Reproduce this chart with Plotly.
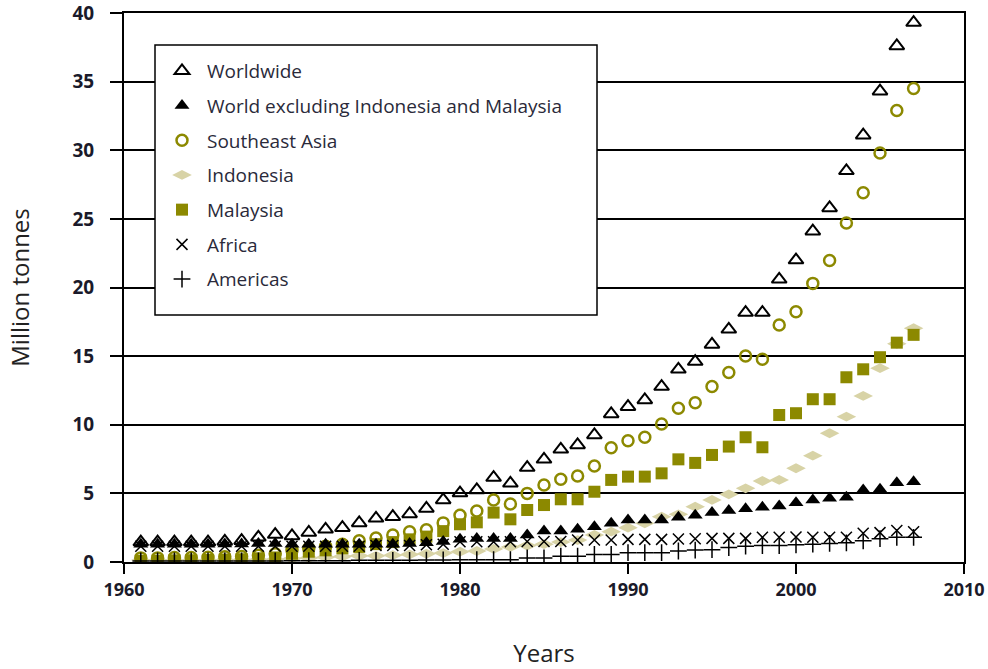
import plotly.graph_objects as go

years = list(range(1961, 2008))

worldwide = [1.45, 1.45, 1.45, 1.45, 1.45, 1.5, 1.55, 1.8, 2.0, 1.9,
             2.15, 2.38, 2.5, 2.85, 3.18, 3.3, 3.5, 3.9, 4.52, 5.02,
             5.25, 6.15, 5.73, 6.88, 7.48, 8.21, 8.53, 9.26, 10.79, 11.32,
             11.81, 12.78, 14.04, 14.6, 15.85, 16.95, 18.17, 18.17, 20.6, 22.0,
             24.1, 25.8, 28.5, 31.1, 34.3, 37.6, 39.3]

world_excl = [1.3, 1.3, 1.3, 1.3, 1.3, 1.32, 1.32, 1.35, 1.35, 1.3,
              1.3, 1.3, 1.3, 1.3, 1.3, 1.3, 1.35, 1.4, 1.5, 1.65,
              1.72, 1.72, 1.72, 1.97, 2.26, 2.26, 2.38, 2.57, 2.82, 3.06,
              3.06, 3.06, 3.26, 3.4, 3.6, 3.75, 3.88, 3.99, 4.08, 4.32,
              4.52, 4.64, 4.71, 5.25, 5.3, 5.78, 5.85]

se_asia = [0.3, 0.3, 0.32, 0.33, 0.35, 0.38, 0.4, 0.5, 0.6, 0.85,
           1.0, 1.15, 1.3, 1.55, 1.75, 1.97, 2.2, 2.35, 2.85, 3.4,
           3.72, 4.52, 4.23, 5.0, 5.61, 6.03, 6.27, 7.0, 8.33, 8.84,
           9.09, 10.06, 11.2, 11.61, 12.78, 13.8, 15.01, 14.77, 17.27, 18.24,
           20.3, 21.96, 24.7, 26.9, 29.8, 32.9, 34.5]

indonesia = [0.15, 0.15, 0.15, 0.15, 0.15, 0.17, 0.17, 0.18, 0.2, 0.25,
             0.3, 0.35, 0.4, 0.45, 0.45, 0.5, 0.55, 0.6, 0.65, 0.75,
             0.8, 0.95, 1.1, 1.2, 1.3, 1.45, 1.6, 1.97, 2.21, 2.5,
             2.82, 3.3, 3.47, 4.03, 4.52, 4.93, 5.37, 5.9, 5.98, 6.83,
             7.75, 9.38, 10.59, 12.1, 14.12, 15.9, 17.03]

malaysia = [0.1, 0.1, 0.12, 0.13, 0.15, 0.18, 0.2, 0.27, 0.33, 0.6,
            0.75, 0.85, 1.0, 1.1, 1.3, 1.45, 1.65, 1.85, 2.25, 2.75,
            2.89, 3.6, 3.11, 3.79, 4.15, 4.57, 4.57, 5.12, 5.98, 6.22,
            6.22, 6.46, 7.48, 7.22, 7.8, 8.41, 9.09, 8.36, 10.71, 10.84,
            11.86, 11.86, 13.46, 14.04, 14.92, 15.98, 16.55]

africa = [1.15, 1.15, 1.15, 1.15, 1.15, 1.15, 1.15, 1.15, 1.15, 1.15,
          1.15, 1.15, 1.15, 1.15, 1.2, 1.2, 1.2, 1.25, 1.3, 1.48,
          1.48, 1.48, 1.48, 1.5, 1.5, 1.5, 1.6, 1.6, 1.6, 1.65,
          1.65, 1.65, 1.68, 1.7, 1.72, 1.72, 1.72, 1.8, 1.8, 1.82,
          1.8, 1.8, 1.8, 2.1, 2.14, 2.3, 2.2]

americas = [0.08, 0.08, 0.08, 0.08, 0.08, 0.08, 0.08, 0.08, 0.08, 0.1,
            0.1, 0.1, 0.1, 0.12, 0.12, 0.12, 0.12, 0.14, 0.15, 0.17,
            0.17, 0.17, 0.17, 0.3, 0.3, 0.42, 0.42, 0.55, 0.55, 0.68,
            0.68, 0.68, 0.8, 0.87, 0.9, 1.05, 1.15, 1.2, 1.2, 1.25,
            1.3, 1.35, 1.4, 1.55, 1.7, 1.8, 1.8]

OLIVE = "#8c8900"
BEIGE = "#d8d3a6"

fig = go.Figure()

def add(name, y, symbol, size, color, line_color, line_width, rank):
    fig.add_trace(go.Scatter(
        x=years, y=y, mode="markers", name=name,
        legendgroup=name, legendrank=rank,
        marker=dict(symbol=symbol, size=size, color=color,
                    line=dict(color=line_color, width=line_width)),
    ))

add("Indonesia", indonesia, "diamond-wide", 14, BEIGE, BEIGE, 0, 4)
add("Malaysia", malaysia, "square", 12, OLIVE, OLIVE, 0, 5)
add("Southeast Asia", se_asia, "circle-open", 11, OLIVE, OLIVE, 2.5, 3)
add("Africa", africa, "x-thin", 11, "black", "black", 1.5, 6)
add("Americas", americas, "cross-thin", 12, "black", "black", 1.5, 7)
add("World excluding Indonesia and Malaysia", world_excl, "triangle-up", 13, "black", "black", 0, 2)
add("Worldwide", worldwide, "triangle-up-open", 13, "black", "black", 2, 1)

L, R, T, B = 124, 24, 13, 107
pw = 988 - L - R
ph = 669 - T - B

def px(x):
    return (x - L) / pw

def py(y):
    return (669 - B - y) / ph

fig.add_shape(type="rect", xref="paper", yref="paper",
              x0=px(155), x1=px(597), y0=py(315), y1=py(45),
              line=dict(color="black", width=1.5), fillcolor="white",
              layer="above")

fig.update_layout(
    width=988, height=669,
    margin=dict(l=L, r=R, t=T, b=B, autoexpand=False),
    paper_bgcolor="white", plot_bgcolor="white",
    font=dict(family="Open Sans", color="#222222"),
    showlegend=True,
    hovermode=False,
    legend=dict(
        x=px(157), y=py(52), xanchor="left", yanchor="top",
        bgcolor="rgba(0,0,0,0)", borderwidth=0,
        font=dict(size=19, color="#2a2a3a"),
        tracegroupgap=7, itemwidth=40,
    ),
    xaxis=dict(
        range=[1960, 2010], dtick=10, tick0=1960,
        showgrid=False, zeroline=False, automargin=False,
        showline=True, linecolor="black", linewidth=2, mirror=True,
        ticks="outside", ticklen=10, tickwidth=2, tickcolor="black",
        ticklabeloverflow="allow",
        tickfont=dict(size=18, color="#1a1a2a", weight="bold"),
        title=dict(text="Years", font=dict(size=24, color="#222222"), standoff=46),
    ),
    yaxis=dict(
        range=[0, 40], dtick=5,
        showgrid=True, gridcolor="black", gridwidth=1.5,
        zeroline=False, automargin=False,
        showline=True, linecolor="black", linewidth=2, mirror=True,
        ticks="outside", ticklen=12, tickwidth=2, tickcolor="black",
        ticklabelstandoff=12, ticklabeloverflow="allow",
        tickfont=dict(size=19, color="#1a1a2a", weight="bold"),
        title=dict(text="Million tonnes", font=dict(size=24, color="#222222"), standoff=36),
    ),
)

fig.write_html("out.html",
               config={"displayModeBar": False},
               post_script="document.body.style.margin='0px';")
